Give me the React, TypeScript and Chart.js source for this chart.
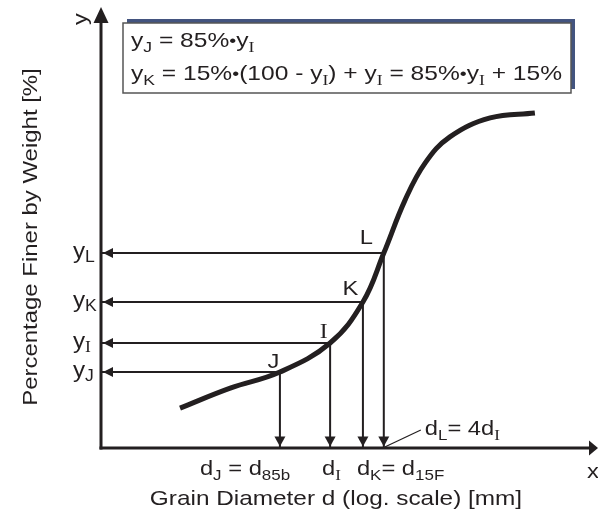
import React, { useEffect, useRef } from "react";
import { Chart, registerables } from "chart.js";

Chart.register(...registerables);

// ---- data (schematic grading curve, abstract units: x = log d, y = % finer) ----
const curveX = [15.9, 26.0, 36.0, 46.1, 52.7, 56.9, 61.2, 65.2, 70.2, 78.3, 87.3];
const curveY = [11.4, 17.1, 21.7, 30.0, 41.7, 55.7, 70.9, 81.4, 88.9, 94.3, 95.7];

const pointNames = ["J", "I", "K", "L"];
const pointX = [36.0, 46.1, 52.7, 56.9];
const pointY = [21.7, 30.0, 41.7, 55.7];

const X_MIN = 0;
const X_MAX = 100;
const Y_MIN = 0;
const Y_MAX = 100;
const Y_ARROW_TIP = 126;

const yAxisTitle = "Percentage Finer by Weight [%]";
const xAxisTitle = "Grain Diameter d (log. scale) [mm]";
const yAxisLetter = "y";
const xAxisLetter = "x";

// segment kinds: 0 normal, 1 subscript, 2 serif subscript, 3 serif normal, 4 small bullet
type Seg = [string, number];
const formulaLine1: Seg[] = [["y", 0], ["J", 1], [" = 85%", 0], ["\u2022", 4], ["y", 0], ["I", 2]];
const formulaLine2: Seg[] = [
  ["y", 0], ["K", 1], [" = 15%", 0], ["\u2022", 4], ["(100 - y", 0], ["I", 2], [") + y", 0], ["I", 2],
  [" = 85%", 0], ["\u2022", 4], ["y", 0], ["I", 2], [" + 15%", 0],
];
const yTickLabels: Seg[][] = [
  [["y", 0], ["J", 1]],
  [["y", 0], ["I", 2]],
  [["y", 0], ["K", 1]],
  [["y", 0], ["L", 1]],
];
const xLabelJ: Seg[] = [["d", 0], ["J", 1], [" = d", 0], ["85b", 1]];
const xLabelI: Seg[] = [["d", 0], ["I", 2]];
const xLabelK: Seg[] = [["d", 0], ["K", 1], ["= d", 0], ["15F", 1]];
const xLabelL: Seg[] = [["d", 0], ["L", 1], ["= 4d", 0], ["I", 2]];

const SANS = '"Liberation Sans", Arial, sans-serif';
const SERIF = '"Liberation Serif", "Times New Roman", serif';
const INK = "#231f20";

type RichOpts = { size: number; sub: number; dy: number; sx: number; align?: "left" | "right" | "center"; rot?: number };

function drawRich(ctx: CanvasRenderingContext2D, segs: Seg[], x: number, y: number, o: RichOpts) {
  const fontFor = (k: number) =>
    k === 0
      ? `${o.size}px ${SANS}`
      : k === 1
      ? `${o.sub}px ${SANS}`
      : k === 2
      ? `${o.sub}px ${SERIF}`
      : k === 3
      ? `${o.size}px ${SERIF}`
      : `${Math.round(o.size * 0.8)}px ${SANS}`;
  const ws: number[] = [];
  let w = 0;
  for (const [t, k] of segs) {
    ctx.font = fontFor(k);
    const m = ctx.measureText(t).width;
    ws.push(m);
    w += m;
  }
  ctx.save();
  ctx.translate(x, y);
  if (o.rot) ctx.rotate(o.rot);
  ctx.scale(o.sx, 1);
  ctx.textAlign = "left";
  ctx.textBaseline = "alphabetic";
  ctx.fillStyle = INK;
  let cx = o.align === "right" ? -w : o.align === "center" ? -w / 2 : 0;
  segs.forEach(([t, k], i) => {
    ctx.font = fontFor(k);
    const dy = k === 1 || k === 2 ? o.dy : k === 4 ? -1.5 : 0;
    ctx.fillText(t, cx, dy);
    cx += ws[i];
  });
  ctx.restore();
}

function tri(ctx: CanvasRenderingContext2D, pts: number[][]) {
  ctx.beginPath();
  ctx.moveTo(pts[0][0], pts[0][1]);
  ctx.lineTo(pts[1][0], pts[1][1]);
  ctx.lineTo(pts[2][0], pts[2][1]);
  ctx.closePath();
  ctx.fill();
}

const diagramPlugin = {
  id: "diagram",
  afterDatasetsDraw(chart: any) {
    const ctx: CanvasRenderingContext2D = chart.ctx;
    const xs = chart.scales.x;
    const ys = chart.scales.y;
    const ax = xs.getPixelForValue(X_MIN);
    const ay = ys.getPixelForValue(Y_MIN);
    const yTip = ys.getPixelForValue(Y_ARROW_TIP);
    const xTip = xs.getPixelForValue(X_MAX);

    ctx.save();
    ctx.fillStyle = INK;
    ctx.strokeStyle = INK;

    // arrowheads on reference lines
    pointX.forEach((vx, i) => {
      const px = xs.getPixelForValue(vx);
      const py = ys.getPixelForValue(pointY[i]);
      tri(ctx, [[ax + 2, py], [ax + 12, py - 5], [ax + 12, py + 5]]);
      tri(ctx, [[px, ay - 1.5], [px - 5.5, ay - 11.5], [px + 5.5, ay - 11.5]]);
    });

    // axes
    ctx.lineWidth = 3;
    ctx.lineCap = "butt";
    ctx.beginPath();
    ctx.moveTo(ax, ay + 1.5);
    ctx.lineTo(ax, yTip + 12);
    ctx.stroke();
    tri(ctx, [[ax, yTip], [ax - 7.5, yTip + 16], [ax + 7.5, yTip + 16]]);
    ctx.beginPath();
    ctx.moveTo(ax - 1.5, ay);
    ctx.lineTo(xTip - 6, ay);
    ctx.stroke();
    tri(ctx, [[xTip, ay], [xTip - 9, ay - 7.5], [xTip - 9, ay + 7.5]]);

    // leader line for d_L
    const pxL = xs.getPixelForValue(pointX[3]);
    ctx.lineWidth = 1.2;
    ctx.beginPath();
    ctx.moveTo(pxL + 1, ay - 1);
    ctx.lineTo(pxL + 37, ay - 18);
    ctx.stroke();

    const main = { size: 21, sub: 15, dy: 5, sx: 1.13 };

    // point labels
    const lblOff = [[-6.5, -4], [-6.5, -5], [-12.5, -7], [-17.5, -9]];
    pointNames.forEach((n, i) => {
      const px = xs.getPixelForValue(pointX[i]);
      const py = ys.getPixelForValue(pointY[i]);
      drawRich(ctx, [[n, n === "I" ? 3 : 0]], px + lblOff[i][0], py + lblOff[i][1], { ...main, align: "center" });
    });

    // y tick labels
    yTickLabels.forEach((segs, i) => {
      const py = ys.getPixelForValue(pointY[i]);
      drawRich(ctx, segs, 73, py + 5, { size: 22, sub: 16, dy: 4, sx: 1.1 });
    });

    // x labels
    const pxJ = xs.getPixelForValue(pointX[0]);
    const pxI = xs.getPixelForValue(pointX[1]);
    const pxK = xs.getPixelForValue(pointX[2]);
    drawRich(ctx, xLabelJ, pxJ - 80, 475, { ...main });
    drawRich(ctx, xLabelI, pxI - 8, 475, { ...main });
    drawRich(ctx, xLabelK, pxK - 6, 475, { ...main });
    drawRich(ctx, xLabelL, pxL + 41, 435, { ...main });

    // axis letters
    drawRich(ctx, [[xAxisLetter, 0]], 593, 478, { ...main, align: "center" });
    drawRich(ctx, [[yAxisLetter, 0]], 87, 19, { ...main, align: "center", rot: -Math.PI / 2 });

    // titles
    drawRich(ctx, [[xAxisTitle, 0]], 336, 505, { size: 21, sub: 15, dy: 5, sx: 1.16, align: "center" });
    drawRich(ctx, [[yAxisTitle, 0]], 37, 237, { size: 21, sub: 15, dy: 5, sx: 1.14, align: "center", rot: -Math.PI / 2 });

    // formula box
    const bx = 123, by = 23, bw = 448, bh = 70;
    ctx.fillStyle = "#43547f";
    ctx.fillRect(bx + 4, by - 4, bw, bh);
    ctx.fillStyle = "#ffffff";
    ctx.fillRect(bx, by, bw, bh);
    ctx.strokeStyle = "#555555";
    ctx.lineWidth = 1.5;
    ctx.strokeRect(bx, by, bw, bh);
    drawRich(ctx, formulaLine1, 131, 47, { size: 21, sub: 15, dy: 5, sx: 1.17 });
    drawRich(ctx, formulaLine2, 131, 80, { size: 21, sub: 15, dy: 5, sx: 1.17 });

    ctx.restore();
  },
};

export default function App() {
  const ref = useRef<HTMLCanvasElement | null>(null);
  useEffect(() => {
    if (!ref.current) return;
    const refLines = pointX.map((vx, i) => ({
      data: [
        { x: X_MIN, y: pointY[i] },
        { x: vx, y: pointY[i] },
        { x: vx, y: Y_MIN },
      ],
      borderColor: INK,
      borderWidth: 2,
      pointRadius: 0,
      tension: 0,
      fill: false,
      clip: false as any,
      order: 1,
    }));
    const chart = new Chart(ref.current, {
      type: "line",
      data: {
        datasets: [
          {
            data: curveX.map((x, i) => ({ x, y: curveY[i] })),
            borderColor: INK,
            borderWidth: 5,
            pointRadius: 0,
            tension: 0.4,
            borderCapStyle: "butt",
            fill: false,
            clip: false as any,
            order: 0,
          },
          ...refLines,
        ],
      },
      options: {
        responsive: false,
        animation: false,
        devicePixelRatio: 1,
        events: [],
        layout: { padding: { left: 101, right: 0, top: 98, bottom: 66 } },
        scales: {
          x: { type: "linear", min: X_MIN, max: X_MAX, display: false },
          y: { type: "linear", min: Y_MIN, max: Y_MAX, display: false },
        },
        plugins: { legend: { display: false }, tooltip: { enabled: false } },
      },
      plugins: [diagramPlugin],
    });
    return () => chart.destroy();
  }, []);
  return (
    <div style={{ position: "fixed", left: 0, top: 0, width: 598, height: 514, background: "#fff" }}>
      <canvas ref={ref} width={598} height={514} />
    </div>
  );
}
